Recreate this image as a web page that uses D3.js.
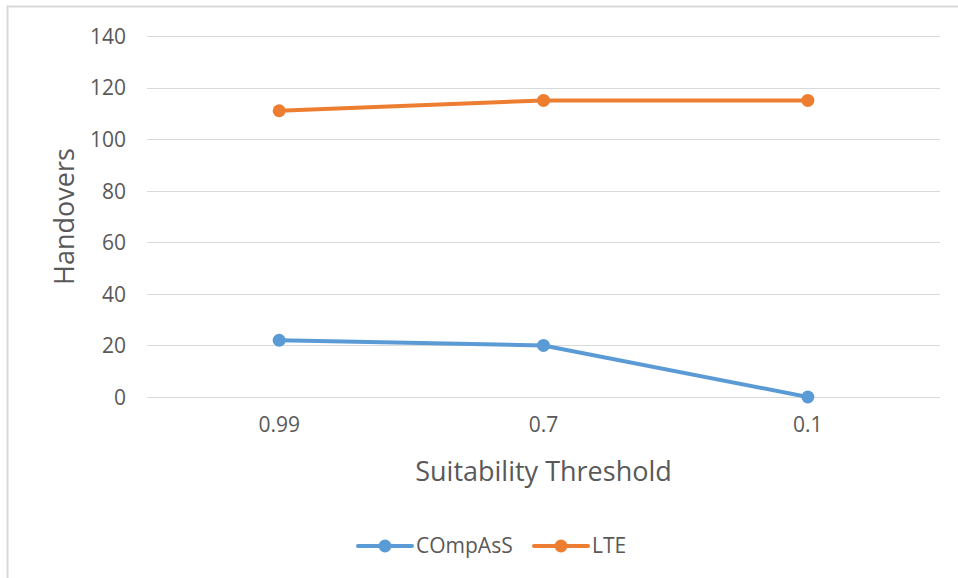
<!DOCTYPE html>
<html>
<head>
<meta charset="utf-8">
<script src="https://cdn.jsdelivr.net/npm/d3@7"></script>
<style>
  html, body { margin: 0; padding: 0; background: #fff; }
  svg text { font-family: "Open Sans", "Noto Sans", sans-serif; fill: #595959; }
</style>
</head>
<body>
<svg id="chart" width="958" height="578"></svg>
<script>
// Threshold categories along the x axis
const thresholds = ["0.99", "0.7", "0.1"];
// Handover counts per series
const compassValues = [22, 20, 0];
const lteValues = [111, 115, 115];
const seriesNames = ["COmpAsS", "LTE"];
const seriesColors = ["#5b9bd5", "#ed7d31"];
const yTicks = [0, 20, 40, 60, 80, 100, 120, 140];

const svg = d3.select("#chart");
const W = 958, H = 578;

// Outer chart frame
svg.append("rect")
  .attr("x", 7.5).attr("y", 6.5)
  .attr("width", W - 5).attr("height", H)
  .attr("fill", "#fff").attr("stroke", "#d9d9d9").attr("stroke-width", 2);

const plot = { left: 147, right: 940, top: 36, bottom: 397 };

const x = d3.scaleBand().domain(thresholds).range([plot.left, plot.right]);
const y = d3.scaleLinear().domain([0, 140]).range([plot.bottom, plot.top]);

// Horizontal gridlines
svg.append("g")
  .selectAll("line")
  .data(yTicks)
  .join("line")
  .attr("x1", plot.left).attr("x2", plot.right)
  .attr("y1", d => Math.round(y(d)) + 0.5).attr("y2", d => Math.round(y(d)) + 0.5)
  .attr("stroke", "#d9d9d9").attr("stroke-width", 1);

// Y axis labels
const yAxis = d3.axisLeft(y).tickValues(yTicks).tickSize(0).tickPadding(0);
const yg = svg.append("g").attr("transform", `translate(${plot.left - 21},0)`).call(yAxis);
yg.select(".domain").remove();
yg.selectAll("text").attr("font-size", 21).attr("dy", "0.35em")
  .style("font-family", "'Open Sans', sans-serif").attr("fill", "#595959");

// X axis labels
const xAxis = d3.axisBottom(x).tickSize(0).tickPadding(0);
const xg = svg.append("g").attr("transform", `translate(0,${plot.bottom + 20})`).call(xAxis);
xg.select(".domain").remove();
xg.selectAll("text").attr("font-size", 21).attr("dy", "0.71em")
  .style("font-family", "'Open Sans', sans-serif").attr("fill", "#595959");

// Axis titles
svg.append("text")
  .attr("transform", `translate(74,${(plot.top + plot.bottom) / 2}) rotate(-90)`)
  .attr("text-anchor", "middle")
  .attr("font-size", 27)
  .text("Handovers");

svg.append("text")
  .attr("x", (plot.left + plot.right) / 2).attr("y", 481)
  .attr("text-anchor", "middle")
  .attr("font-size", 27)
  .text("Suitability Threshold");

// Series lines and markers
const seriesData = [compassValues, lteValues];
const line = d3.line()
  .x((d, i) => x(thresholds[i]) + x.bandwidth() / 2)
  .y(d => y(d));

seriesData.forEach((vals, si) => {
  const g = svg.append("g");
  g.append("path")
    .datum(vals)
    .attr("d", line)
    .attr("fill", "none")
    .attr("stroke", seriesColors[si])
    .attr("stroke-width", 4)
    .attr("stroke-linejoin", "round")
    .attr("stroke-linecap", "round");
  g.selectAll("circle")
    .data(vals)
    .join("circle")
    .attr("cx", (d, i) => x(thresholds[i]) + x.bandwidth() / 2)
    .attr("cy", d => y(d))
    .attr("r", 6.5)
    .attr("fill", seriesColors[si]);
});

// Legend
const legendItems = [
  { name: seriesNames[0], color: seriesColors[0], x0: 358 },
  { name: seriesNames[1], color: seriesColors[1], x0: 534 }
];
const legendY = 546;
legendItems.forEach(item => {
  const g = svg.append("g");
  g.append("line")
    .attr("x1", item.x0).attr("x2", item.x0 + 54)
    .attr("y1", legendY).attr("y2", legendY)
    .attr("stroke", item.color).attr("stroke-width", 4)
    .attr("stroke-linecap", "round");
  g.append("circle")
    .attr("cx", item.x0 + 27).attr("cy", legendY).attr("r", 6.5)
    .attr("fill", item.color);
  g.append("text")
    .attr("x", item.x0 + 58).attr("y", legendY)
    .attr("dy", "0.35em")
    .attr("font-size", 21)
    .text(item.name);
});
</script>
</body>
</html>
